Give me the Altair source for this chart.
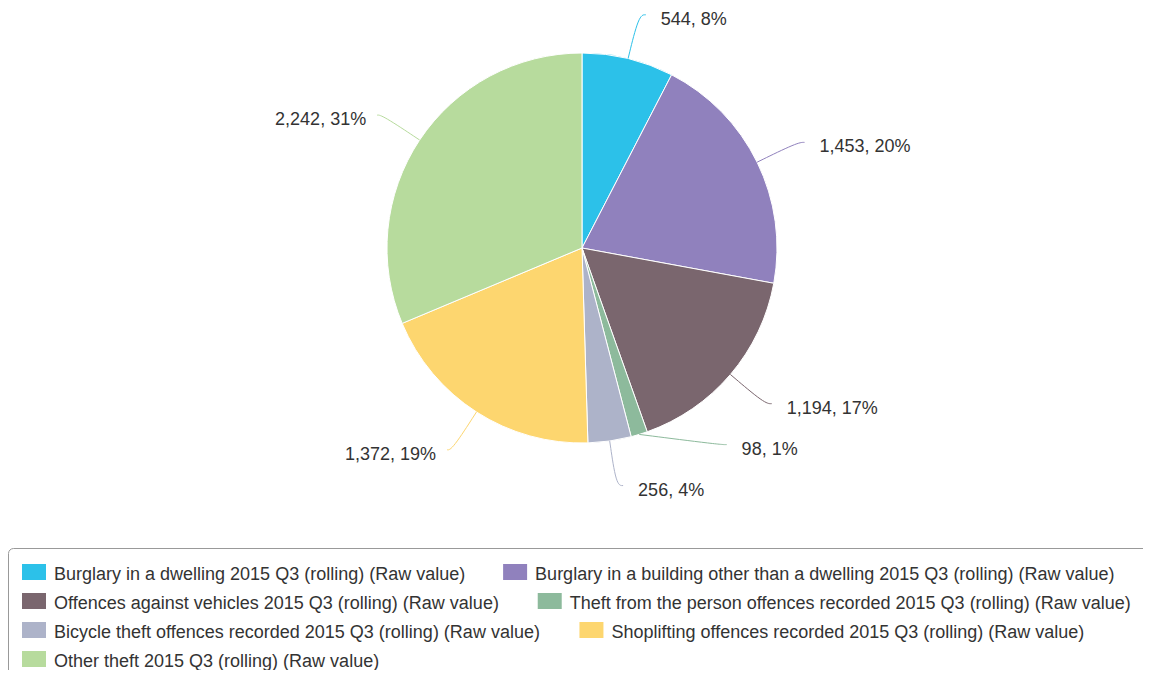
import math
import altair as alt
import pandas as pd

categories = [
    "Burglary in a dwelling",
    "Burglary in a building other than a dwelling",
    "Offences against vehicles",
    "Theft from the person offences recorded",
    "Bicycle theft offences recorded",
    "Shoplifting offences recorded",
    "Other theft",
]
values = [544, 1453, 1194, 98, 256, 1372, 2242]
colors = ["#2CC1E9", "#9081BD", "#7A666E", "#8DBA9C", "#ADB3C9", "#FDD66F", "#B7DB9D"]
suffix = " 2015 Q3 (rolling) (Raw value)"

# ---- layout constants ----
W, H = 1135, 662
CX, CY = 574, 240
R = 195
RL = 240
GAP = 24
FONT = "Liberation Sans"
FS = 18
TXT = "#333333"

total = sum(values)
rows = []
cum = 0
for i, (c, v) in enumerate(zip(categories, values)):
    a0 = cum / total * 2 * math.pi
    cum += v
    a1 = cum / total * 2 * math.pi
    mid = (a0 + a1) / 2
    rows.append(dict(
        idx=i, category=c, value=v,
        label=f"{v:,}, {round(v / total * 100)}%",
        ex=CX + R * math.sin(mid), ey=CY - R * math.cos(mid),
        lx=CX + RL * math.sin(mid), ly=CY - RL * math.cos(mid),
        side="right" if math.sin(mid) >= 0 else "left",
    ))

# simple label de-confliction per side
for side in ("right", "left"):
    group = sorted([r for r in rows if r["side"] == side], key=lambda r: r["ly"])
    for i in range(len(group) - 1):
        if group[i + 1]["ly"] - group[i]["ly"] < GAP:
            if i > 0:
                new = (group[i - 1]["ly"] + group[i + 1]["ly"]) / 2
                if new - group[i - 1]["ly"] >= GAP:
                    group[i]["ly"] = new
                    dy = new - CY
                    dx = math.sqrt(max(RL ** 2 - dy ** 2, 0))
                    group[i]["lx"] = CX + dx if side == "right" else CX - dx
                    continue
            group[i + 1]["ly"] = group[i]["ly"] + GAP

for r in rows:
    right = r["side"] == "right"
    r["tx"] = r["lx"] + (22 if right else -16)
    r["ty"] = r["ly"] + 5

df = pd.DataFrame(rows)

line_rows = []
for r in rows:
    right = r["side"] == "right"
    line_rows.append(dict(category=r["category"], seq=0, x=r["ex"], y=r["ey"]))
    line_rows.append(dict(category=r["category"], seq=1, x=r["lx"], y=r["ly"]))
    line_rows.append(dict(category=r["category"], seq=2, x=r["lx"] + (7 if right else -5), y=r["ly"]))
lines_df = pd.DataFrame(line_rows)

# ---- legend flow layout (Arial metrics) ----
AW = {" ": 278, "(": 333, ")": 333, "%": 889, ",": 278}
for ch in "0123456789":
    AW[ch] = 556
AW.update(dict(zip("ABCDEFGHIJKLMNOPQRSTUVWXYZ",
                   [667, 667, 722, 722, 667, 611, 778, 722, 278, 500, 667, 556, 833,
                    722, 778, 667, 778, 722, 667, 611, 722, 667, 944, 667, 667, 611])))
AW.update(dict(zip("abcdefghijklmnopqrstuvwxyz",
                   [556, 556, 500, 556, 556, 278, 556, 556, 222, 222, 500, 222, 833,
                    556, 556, 556, 556, 333, 500, 278, 556, 500, 722, 500, 500, 500])))


def text_w(t):
    return sum(AW.get(ch, 556) for ch in t) * FS / 1000 * 1.017


LX0 = 14
LY0 = 564
ROWH = 29
SYM_W, SYM_H = 24, 16
MAXX = 1145
leg = []
x = LX0
row = 0
for i, c in enumerate(categories):
    t = c + suffix
    w = text_w(t)
    if x > LX0 and x + 32 + w > MAXX:
        row += 1
        x = LX0
    yc = LY0 + row * ROWH
    leg.append(dict(category=c, text=t, sx=x, sx2=x + SYM_W,
                    sy=yc - SYM_H / 2, sy2=yc + SYM_H / 2, tx=x + 32, ty=yc + 3))
    x = x + 32 + w + 31
leg_df = pd.DataFrame(leg)

xs = alt.Scale(domain=[0, W], range=[0, W])
ys = alt.Scale(domain=[0, H], range=[0, H])
cs = alt.Scale(domain=categories, range=colors)

pie = alt.Chart(df).mark_arc(outerRadius=R, stroke="white", strokeWidth=1).encode(
    theta=alt.Theta("value:Q", stack=True),
    color=alt.Color("category:N", scale=cs, legend=None),
    order=alt.Order("idx:Q"),
    x=alt.value(CX),
    y=alt.value(CY),
)

connectors = alt.Chart(lines_df).mark_line(strokeWidth=1, interpolate="basis").encode(
    x=alt.X("x:Q", scale=xs, axis=None),
    y=alt.Y("y:Q", scale=ys, axis=None),
    color=alt.Color("category:N", scale=cs, legend=None),
    detail="category:N",
    order="seq:Q",
)

lab_right = alt.Chart(df).transform_filter("datum.side == 'right'").mark_text(
    align="left", baseline="middle", font=FONT, fontSize=FS, color=TXT
).encode(x=alt.X("tx:Q", scale=xs, axis=None), y=alt.Y("ty:Q", scale=ys, axis=None), text="label:N")

lab_left = alt.Chart(df).transform_filter("datum.side == 'left'").mark_text(
    align="right", baseline="middle", font=FONT, fontSize=FS, color=TXT
).encode(x=alt.X("tx:Q", scale=xs, axis=None), y=alt.Y("ty:Q", scale=ys, axis=None), text="label:N")

box = alt.Chart(pd.DataFrame({"k": [0]})).mark_rect(
    fill=None, stroke="#999999", strokeWidth=1, cornerRadius=5
).encode(x=alt.value(0.5), x2=alt.value(W + 20), y=alt.value(540.5), y2=alt.value(H + 20))

leg_sym = alt.Chart(leg_df).mark_rect().encode(
    x=alt.X("sx:Q", scale=xs, axis=None), x2="sx2:Q",
    y=alt.Y("sy:Q", scale=ys, axis=None), y2="sy2:Q",
    color=alt.Color("category:N", scale=cs, legend=None),
)
leg_txt = alt.Chart(leg_df).mark_text(
    align="left", baseline="middle", font=FONT, fontSize=FS, color=TXT
).encode(x=alt.X("tx:Q", scale=xs, axis=None), y=alt.Y("ty:Q", scale=ys, axis=None), text="text:N")

chart = alt.layer(pie, connectors, lab_right, lab_left, box, leg_sym, leg_txt).properties(
    width=W, height=H, padding=0, autosize=alt.AutoSizeParams(type="none")
).configure_view(stroke=None)

chart.save("out.html", embed_options={"renderer": "svg", "actions": False})
